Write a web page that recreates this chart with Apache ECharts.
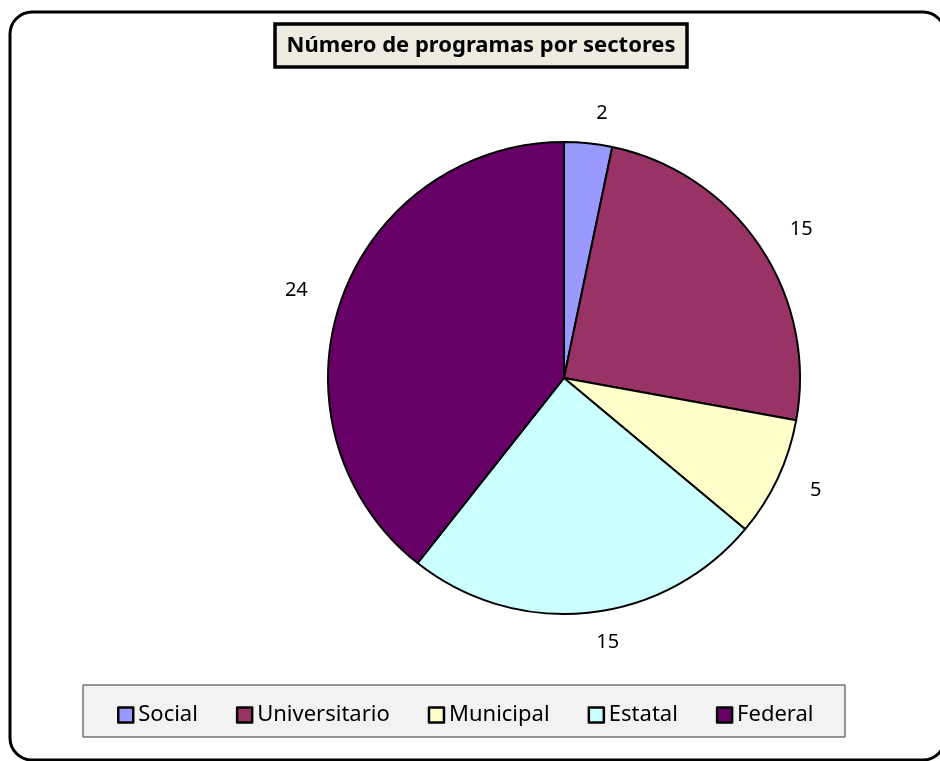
<!DOCTYPE html>
<html>
<head>
<meta charset="utf-8">
<script src="https://cdn.jsdelivr.net/npm/echarts@6/dist/echarts.min.js"></script>
<style>
  html, body { margin: 0; padding: 0; background: #fff; }
  #main { width: 940px; height: 761px; }
</style>
</head>
<body>
<div id="main"></div>
<script>
// datos del grafico
const chartTitle = 'Número de programas por sectores';
const sectores = ['Social', 'Universitario', 'Municipal', 'Estatal', 'Federal'];
const programas = [2, 15, 5, 15, 24];
const colores = ['#9999ff', '#993366', '#ffffcc', '#ccffff', '#660066'];

const font = 'Noto Sans';

let myChart = echarts.init(document.getElementById('main'));
myChart.setOption({
  animation: false,
  color: colores,
  graphic: [
    // marco exterior redondeado
    {
      type: 'rect', z: -10,
      shape: { x: 10, y: 12, width: 935, height: 748, r: 22 },
      style: { fill: '#fff', stroke: '#000', lineWidth: 3 }
    },
    // caja del titulo
    {
      type: 'rect',
      shape: { x: 275, y: 24, width: 412, height: 43 },
      style: { fill: '#eeece1', stroke: '#000', lineWidth: 3.5 }
    },
    {
      type: 'text',
      x: 481, y: 46,
      style: {
        text: chartTitle, align: 'center', verticalAlign: 'middle',
        font: 'bold 22px "Noto Sans"', fill: '#000'
      }
    },
    // caja de la leyenda
    {
      type: 'rect',
      shape: { x: 83, y: 685, width: 762, height: 52 },
      style: { fill: '#f2f2f2', stroke: '#333', lineWidth: 1 }
    }
  ],
  legend: {
    data: sectores,
    icon: 'rect',
    left: 112,
    top: 699,
    itemWidth: 15,
    itemHeight: 15,
    itemGap: 38,
    itemStyle: { borderColor: '#000', borderWidth: 2.5 },
    textStyle: { fontFamily: font, fontSize: 22, color: '#000' }
  },
  series: [{
    type: 'pie',
    center: [564, 378],
    radius: 236,
    startAngle: 90,
    clockwise: true,
    data: sectores.map((s, i) => ({ name: s, value: programas[i] })),
    itemStyle: { borderColor: '#000', borderWidth: 2 },
    label: {
      show: true,
      position: 'outside',
      formatter: '{c}',
      fontFamily: font,
      fontSize: 20,
      color: '#000'
    },
    labelLine: { show: false, length: 30, length2: 0 },
    emphasis: { disabled: true }
  }]
});
</script>
</body>
</html>
